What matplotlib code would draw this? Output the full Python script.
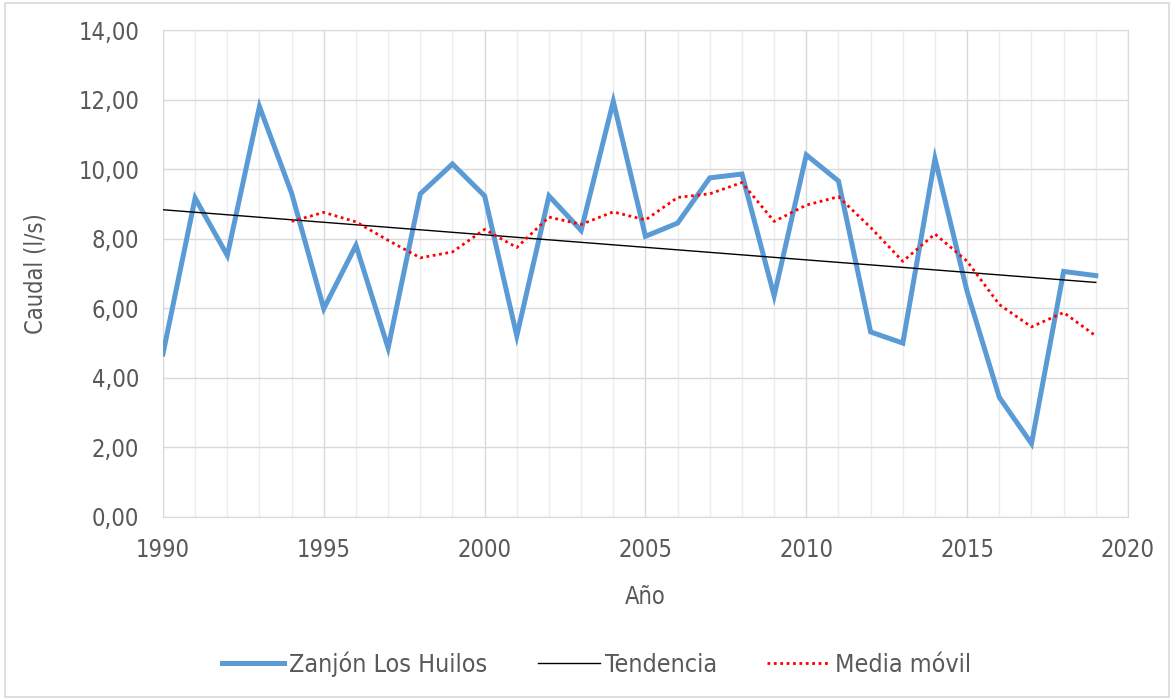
import numpy as np
import matplotlib.pyplot as plt
from matplotlib.patches import Rectangle
from matplotlib.ticker import MultipleLocator, FuncFormatter

plt.rcParams['font.family'] = ['DejaVu Sans']
plt.rcParams['font.stretch'] = 'condensed'

# Caudal anual (l/s), 1990-2019
anios = np.arange(1990, 2020)
caudal = [4.69, 9.17, 7.52, 11.80, 9.31, 5.99, 7.81, 4.86, 9.29, 10.15,
          9.23, 5.21, 9.23, 8.24, 11.95, 8.07, 8.45, 9.75, 9.86, 6.36,
          10.41, 9.66, 5.32, 5.00, 10.30, 6.48, 3.44, 2.11, 7.06, 6.94]
ventana = 5

caudal = np.array(caudal)
# media movil de 5 periodos
media = np.convolve(caudal, np.ones(ventana) / ventana, mode='valid')
anios_media = anios[ventana - 1:]
# tendencia lineal
m, b = np.polyfit(anios, caudal, 1)
tend = m * anios + b

gris = '#595959'
fs = 17
fig = plt.figure(figsize=(11.74, 6.99), dpi=100)
ax = fig.add_axes([0.1388, 0.2604, 0.822, 0.6966])

ax.plot(anios, caudal, color='#5B9BD5', lw=3.6, solid_joinstyle='miter',
        label='Zanjón Los Huilos', zorder=3)
ax.plot(anios, tend, color='black', lw=1.0, label='Tendencia', zorder=4)
ax.plot(anios_media, media, color='#FF0000', lw=2.0, linestyle=(0, (1, 1.3)),
        label='Media móvil', zorder=5)

ax.set_xlim(1990, 2020)
ax.set_ylim(0, 14)
ax.xaxis.set_major_locator(MultipleLocator(5))
ax.xaxis.set_minor_locator(MultipleLocator(1))
ax.yaxis.set_major_locator(MultipleLocator(2))
ax.yaxis.set_major_formatter(FuncFormatter(lambda v, p: f'{v:.2f}'.replace('.', ',')))

ax.grid(which='major', color='#D9D9D9', lw=1.0)
ax.grid(which='minor', axis='x', color='#EDEDED', lw=1.0)
ax.set_axisbelow(True)
for s in ax.spines.values():
    s.set_color('#D9D9D9')
ax.tick_params(which='both', length=0, labelsize=fs, colors=gris)
ax.tick_params(axis='y', pad=17)
ax.tick_params(axis='x', pad=15)

ax.set_xlabel('Año', fontsize=fs, color=gris, labelpad=17)
ax.set_ylabel('Caudal (l/s)', fontsize=fs, color=gris, labelpad=22)

leg = fig.legend(loc='center', bbox_to_anchor=(0.508, 0.05), ncol=3, frameon=False,
                 fontsize=18, handlelength=2.5, handletextpad=0.2, columnspacing=2.0)
for t in leg.get_texts():
    t.set_color(gris)

fig.patches.append(Rectangle((0.004, 0.003), 0.992, 0.993, transform=fig.transFigure,
                             fill=False, edgecolor='#D9D9D9', lw=1.2))

fig.savefig('out.png', dpi=100)
